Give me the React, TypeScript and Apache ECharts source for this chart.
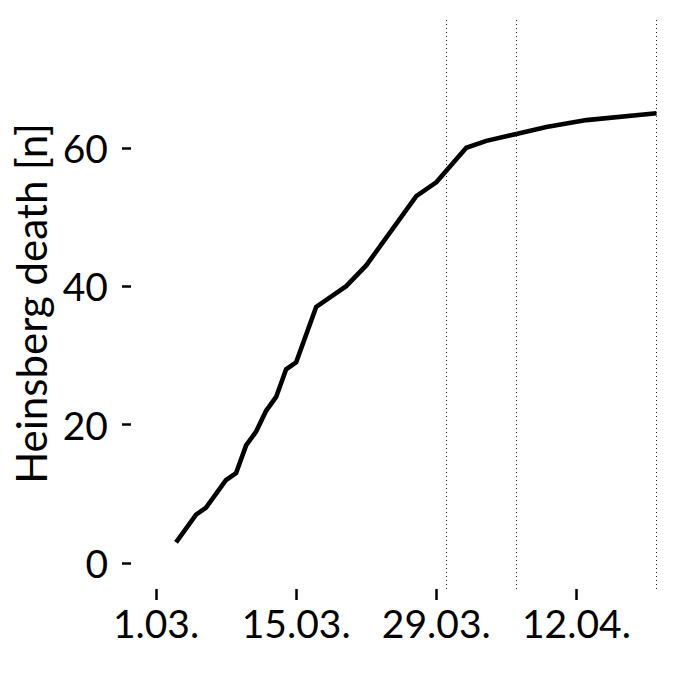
import React, { useEffect, useRef } from "react";
import * as echarts from "echarts";

const startDate = "2020-03-01";
const dates = [
  "2020-03-03", "2020-03-05", "2020-03-06", "2020-03-08", "2020-03-09",
  "2020-03-10", "2020-03-11", "2020-03-12", "2020-03-13", "2020-03-14",
  "2020-03-15", "2020-03-17", "2020-03-20", "2020-03-22", "2020-03-27",
  "2020-03-29", "2020-04-01", "2020-04-03", "2020-04-06", "2020-04-09",
  "2020-04-13", "2020-04-20",
];
const deaths = [
  3, 7, 8, 12, 13, 17, 19, 22, 24, 28, 29, 37, 40, 43, 53, 55, 60, 61, 62, 63, 64, 65,
];
const tickDates = ["2020-03-01", "2020-03-15", "2020-03-29", "2020-04-12"];
const tickLabels = ["1.03.", "15.03.", "29.03.", "12.04."];
const markerDates = ["2020-03-30", "2020-04-06", "2020-04-20"];
const yTicks = [0, 20, 40, 60];
const yTitle = "Heinsberg death [n]";

const dayOf = (d: string) =>
  Math.round((Date.parse(d + "T00:00:00Z") - Date.parse(startDate + "T00:00:00Z")) / 86400000);

export default function App() {
  const ref = useRef<HTMLDivElement>(null);
  useEffect(() => {
    document.body.style.margin = "0";
    if (!ref.current) return;
    const chart = echarts.init(ref.current, null, { renderer: "svg" });
    const tickDays = tickDates.map(dayOf);
    const font = "Lato";
    chart.setOption({
      animation: false,
      backgroundColor: "#ffffff",
      grid: { left: 131, right: 18.5, top: 18, bottom: 111, containLabel: false },
      xAxis: {
        type: "value",
        min: -2.5,
        max: 52.5,
        axisLine: { show: false, onZero: false },
        splitLine: { show: false },
        axisTick: {
          show: true,
          customValues: tickDays,
          length: 11,
          lineStyle: { color: "#000", width: 2.5 },
        },
        axisLabel: {
          customValues: tickDays,
          margin: 14,
          fontFamily: font,
          fontSize: 39,
          color: "#000",
          formatter: (v: number) => {
            const i = tickDays.indexOf(Math.round(v));
            return i >= 0 ? tickLabels[i] : "";
          },
        },
      },
      yAxis: {
        type: "value",
        min: -3.75,
        max: 78.75,
        name: yTitle,
        nameLocation: "middle",
        nameGap: 70,
        nameTextStyle: { fontFamily: font, fontSize: 42, color: "#000" },
        axisLine: { show: false, onZero: false },
        splitLine: { show: false },
        axisTick: {
          show: true,
          customValues: yTicks,
          length: 9,
          lineStyle: { color: "#000", width: 2.5 },
        },
        axisLabel: {
          customValues: yTicks,
          margin: 23,
          fontFamily: font,
          fontSize: 39,
          color: "#000",
        },
      },
      series: [
        {
          type: "line",
          data: dates.map((d, i) => [dayOf(d), deaths[i]]),
          showSymbol: false,
          symbol: "none",
          lineStyle: { color: "#000", width: 4.6, join: "miter" },
          markLine: {
            silent: true,
            symbol: ["none", "none"],
            label: { show: false },
            lineStyle: { color: "#222", width: 1, type: [1, 3] },
            data: markerDates.map((d) => ({ xAxis: dayOf(d) })),
          },
        },
      ],
    });
    return () => chart.dispose();
  }, []);
  return <div ref={ref} style={{ width: 700, height: 700 }} />;
}
